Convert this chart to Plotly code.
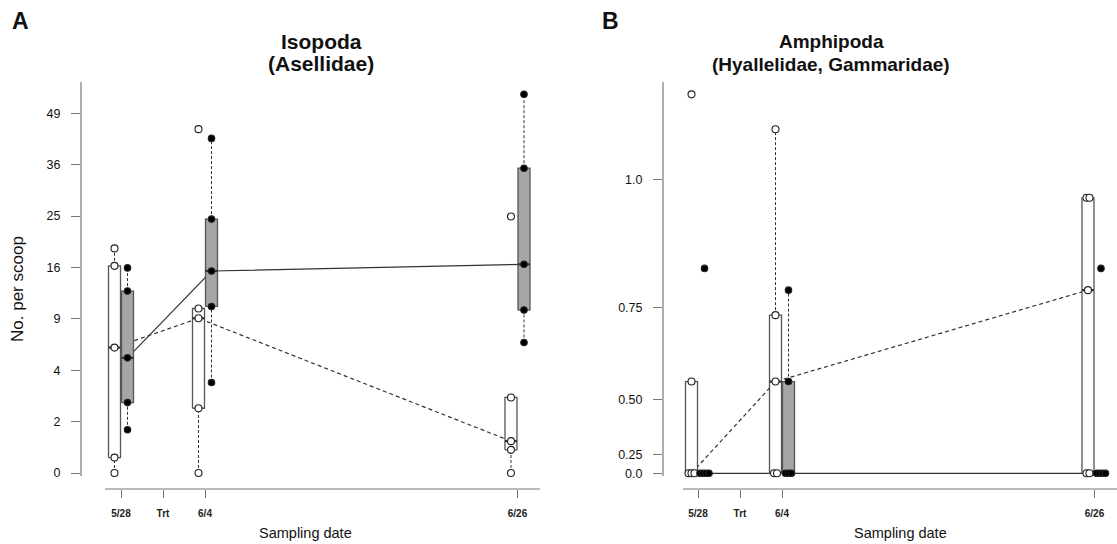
import numpy as np
import plotly.graph_objects as go

# ---------------- data (values in plotted axis units) ----------------
dates = ["5/28", "6/4", "6/26"]
date_pos = [0.0, 1.0, 4.72]
trt_label = "Trt"
trt_pos = 0.5

# Isopoda (Asellidae): 5 observations per group (axis units)
iso_control = [[0.00, 0.30, 2.44, 4.03, 4.37],
               [0.00, 1.26, 3.01, 3.20, 6.69],
               [0.00, 0.45, 0.62, 1.47, 4.99]]
iso_treat = [[0.84, 1.37, 2.24, 3.54, 3.99],
             [1.76, 3.24, 3.93, 4.94, 6.51],
             [2.54, 3.17, 4.06, 5.93, 7.37]]
iso_tickvals = [0, 1, 2, 3, 4, 5, 6, 7]
iso_ticktext = ["0", "2", "4", "9", "16", "25", "36", "49"]

# Amphipoda (Hyallelidae, Gammaridae): 5 observations per group (axis units)
amph_control = [[0.0, 0.0, 0.0, 0.312, 1.289],
                [0.0, 0.0, 0.312, 0.538, 1.17],
                [0.0, 0.0, 0.623, 0.937, 0.937]]
amph_treat = [[0.0, 0.0, 0.0, 0.0, 0.697],
              [0.0, 0.0, 0.0, 0.312, 0.623],
              [0.0, 0.0, 0.0, 0.0, 0.697]]
amph_tickvals = [0, 0.0625, 0.25, 0.5625, 1.0]
amph_ticktext = ["0.0", "0.25", "0.50", "0.75", "1.0"]

# ---------------- styling ----------------
W, H = 1117, 544
FONT = "Liberation Sans, Arial, Helvetica, sans-serif"
AXC = "#777777"
BOXLINE = "#555555"
GRAYFILL = "#a6a6a6"
PX_PER_UNIT = 84.0
OFF = 6.5 / PX_PER_UNIT      # box centre offset from date
HW = 6.0 / PX_PER_UNIT       # box half width
TIE = 3.0 / PX_PER_UNIT      # horizontal spread of tied points


def fivenum(x):
    x = sorted(x)
    n = len(x)
    n4 = np.floor((n + 3) / 2) / 2
    d = [1, n4, (n + 1) / 2, n + 1 - n4, n]
    return [0.5 * (x[int(np.floor(di)) - 1] + x[int(np.ceil(di)) - 1]) for di in d]


def stats(x):
    _, q1, med, q3, _ = fivenum(x)
    iqr = q3 - q1
    lo_f, hi_f = q1 - 1.5 * iqr, q3 + 1.5 * iqr
    inside = [v for v in x if lo_f <= v <= hi_f]
    return q1, med, q3, min(inside), max(inside)


fig = go.Figure()


def add_panel(control, treat, xa, ya):
    xref = "x" if xa == 1 else "x%d" % xa
    yref = "y" if ya == 1 else "y%d" % ya
    cx_c = [p - OFF for p in date_pos]
    cx_t = [p + OFF for p in date_pos]
    # connecting lines through medians
    fig.add_trace(go.Scatter(x=cx_c, y=[stats(g)[1] for g in control], mode="lines",
                             line=dict(color="#333333", width=1.2, dash="4px,3px"),
                             xaxis=xref, yaxis=yref, hoverinfo="skip"))
    fig.add_trace(go.Scatter(x=cx_t, y=[stats(g)[1] for g in treat], mode="lines",
                             line=dict(color="#333333", width=1.2),
                             xaxis=xref, yaxis=yref, hoverinfo="skip"))
    pts = []
    for groups, centres, fill, mcol in ((control, cx_c, "white", "white"),
                                        (treat, cx_t, GRAYFILL, "black")):
        for g, c in zip(groups, centres):
            q1, med, q3, wlo, whi = stats(g)
            # whiskers
            for a, b in ((wlo, q1), (q3, whi)):
                if a != b:
                    fig.add_trace(go.Scatter(x=[c, c], y=[a, b], mode="lines",
                                             line=dict(color="#333333", width=1, dash="3px,2px"),
                                             xaxis=xref, yaxis=yref, hoverinfo="skip"))
            # box
            fig.add_trace(go.Scatter(x=[c - HW, c + HW, c + HW, c - HW, c - HW],
                                     y=[q1, q1, q3, q3, q1], mode="lines", fill="toself",
                                     fillcolor=fill, line=dict(color=BOXLINE, width=1.3),
                                     xaxis=xref, yaxis=yref, hoverinfo="skip"))
            # median
            fig.add_trace(go.Scatter(x=[c - HW, c + HW], y=[med, med], mode="lines",
                                     line=dict(color="#333333", width=2.2),
                                     xaxis=xref, yaxis=yref, hoverinfo="skip"))
            # observations, tied values spread horizontally
            xs, ys = [], []
            vals = sorted(g)
            for v in sorted(set(vals)):
                k = vals.count(v)
                for i in range(k):
                    xs.append(c + (i - (k - 1) / 2) * TIE)
                    ys.append(v)
            pts.append((xs, ys, mcol))
    for xs, ys, mcol in pts:
        fig.add_trace(go.Scatter(x=xs, y=ys, mode="markers",
                                 marker=dict(size=7 if mcol == "white" else 6.5, color=mcol,
                                             line=dict(color="#222222", width=1.1)),
                                 xaxis=xref, yaxis=yref, hoverinfo="skip"))


add_panel(iso_control, iso_treat, 1, 1)
add_panel(amph_control, amph_treat, 2, 2)

# ---------------- axes ----------------
ydom = [1 - 489 / H, 1 - 82 / H]
xticks = [date_pos[0], trt_pos, date_pos[1], date_pos[2]]
xtext = ["<b>%s</b>" % t for t in (dates[0], trt_label, dates[1], dates[2])]

common_x = dict(showgrid=False, zeroline=False, showline=False, ticks="outside",
                ticklen=8, tickwidth=1, tickcolor=AXC, tickvals=xticks, ticktext=xtext,
                tickfont=dict(family=FONT, size=10, color="#222222"),
                ticklabelstandoff=7, fixedrange=True)
common_y = dict(showgrid=False, zeroline=False, showline=False, ticks="outside",
                ticklen=9, tickwidth=1, tickcolor=AXC,
                tickfont=dict(family=FONT, size=12.5, color="#111111"),
                ticklabelstandoff=8, fixedrange=True)

fig.update_layout(
    width=W, height=H, autosize=False,
    margin=dict(l=0, r=0, t=0, b=0),
    paper_bgcolor="white", plot_bgcolor="white",
    showlegend=False,
    xaxis=dict(domain=[81 / W, 540 / W], range=[(81 - 121) / PX_PER_UNIT, (540 - 121) / PX_PER_UNIT],
               anchor="y", **common_x),
    yaxis=dict(domain=ydom, range=[-16 / 51.4, 391 / 51.4], anchor="x",
               tickvals=iso_tickvals, ticktext=iso_ticktext, **common_y),
    xaxis2=dict(domain=[663 / W, 1.0], range=[(663 - 698) / PX_PER_UNIT, (1117 - 698) / PX_PER_UNIT],
                anchor="y2", **common_x),
    yaxis2=dict(domain=ydom, range=[-15.7 / 294, 391.3 / 294], anchor="x2",
                tickvals=amph_tickvals, ticktext=amph_ticktext, **common_y),
)

# detached R-style axis lines
shape_line = dict(color=AXC, width=1.2)
fig.add_shape(type="line", xref="x domain", yref="y domain", x0=0, x1=0, y0=13 / 407, y1=1, line=shape_line)
fig.add_shape(type="line", xref="x domain", yref="y domain", x0=24 / 459, x1=1, y0=0, y1=0, line=shape_line)
fig.add_shape(type="line", xref="x2 domain", yref="y2 domain", x0=0, x1=0, y0=13 / 407, y1=1, line=shape_line)
fig.add_shape(type="line", xref="x2 domain", yref="y2 domain", x0=20 / 454, x1=1, y0=0, y1=0, line=shape_line)


def ann(text, px, py, size, bold=False, angle=0):
    fig.add_annotation(text="<b>%s</b>" % text if bold else text,
                       x=px / W, y=1 - py / H, xref="paper", yref="paper",
                       xanchor="center", yanchor="middle", showarrow=False, textangle=angle,
                       font=dict(family=FONT, size=size, color="#111111"))


ann("A", 20, 21, 23, bold=True)
ann("B", 610, 21, 23, bold=True)
ann("Isopoda", 321, 42, 21, bold=True)
ann("(Asellidae)", 321, 63, 21, bold=True)
ann("Amphipoda", 831, 42, 19, bold=True)
ann("(Hyallelidae, Gammaridae)", 831, 64, 19, bold=True)
ann("Sampling date", 305, 533, 14.5)
ann("Sampling date", 900, 533, 14.5)
ann("No. per scoop", 17, 289, 17, angle=-90)

fig.write_html("out.html", config={"displayModeBar": False},
               post_script="document.body.style.margin='0';document.body.style.overflow='hidden';")
